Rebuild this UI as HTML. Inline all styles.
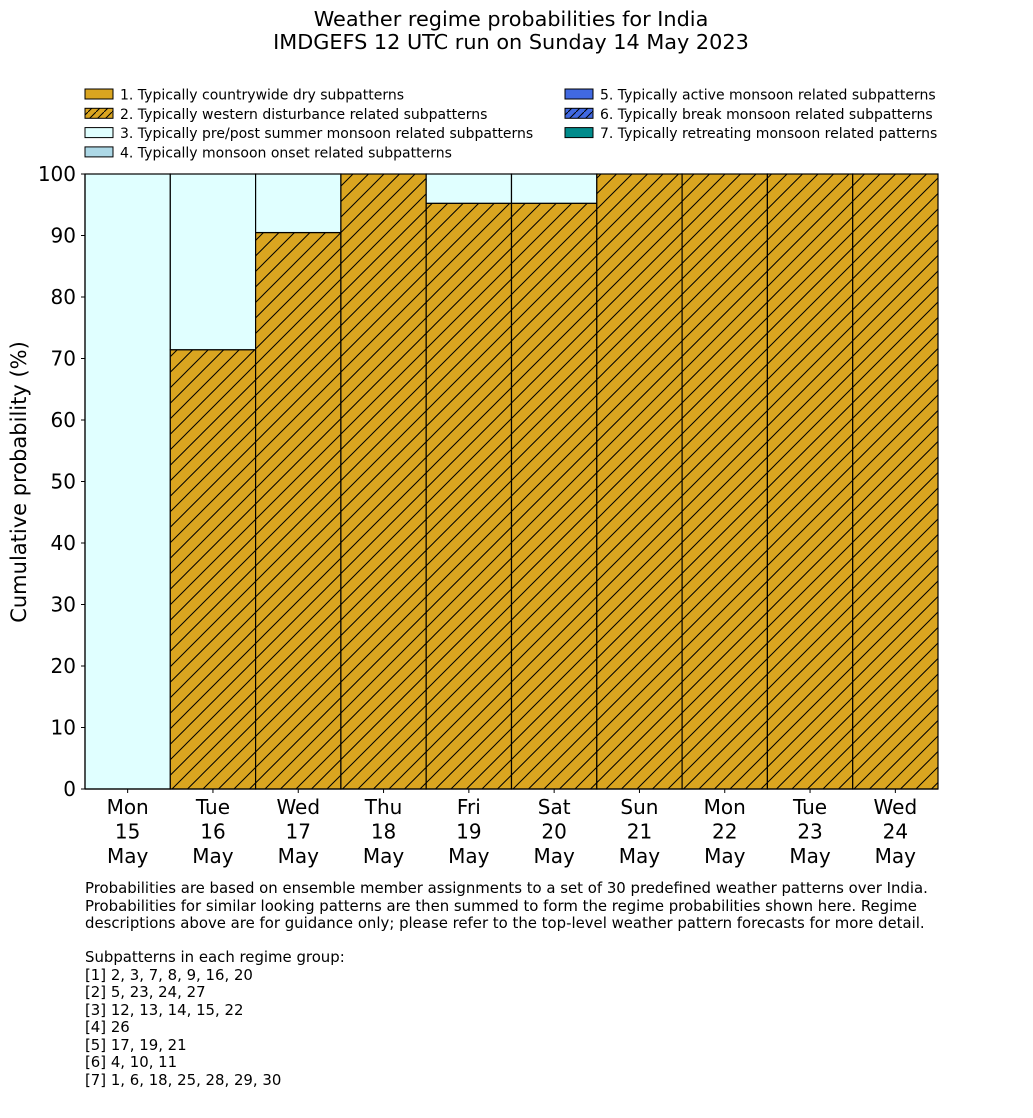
<!DOCTYPE html>
<html><head><meta charset="utf-8"><style>
body{margin:0;background:#fff;font-family:"DejaVu Sans","Liberation Sans",sans-serif;}
svg text{font-family:"DejaVu Sans","Liberation Sans",sans-serif;fill:#000}
</style></head><body>
<svg width="1033" height="1114">
<defs>
<pattern id="hatch" patternUnits="userSpaceOnUse" width="15.5" height="15.5">
<rect width="15.5" height="15.5" fill="#daa520"/>
<path d="M-2,17.5 L17.5,-2 M-2,2 L2,-2 M13.5,17.5 L17.5,13.5" stroke="#000" stroke-width="1"/>
</pattern>
<pattern id="hatchs" patternUnits="userSpaceOnUse" width="8" height="8">
<rect width="8" height="8" fill="#daa520"/>
<path d="M-1,9 L9,-1" stroke="#000" stroke-width="1"/>
</pattern>
<pattern id="hatchb" patternUnits="userSpaceOnUse" width="8" height="8">
<rect width="8" height="8" fill="#4169e1"/>
<path d="M-1,9 L9,-1" stroke="#000" stroke-width="1"/>
</pattern>
</defs>
<text x="511" y="26" font-size="20.8" text-anchor="middle">Weather regime probabilities for India</text>
<text x="511" y="49" font-size="20.8" text-anchor="middle">IMDGEFS 12 UTC run on Sunday 14 May 2023</text>
<g id="legend" font-size="14"></g>
<g id="plot"></g>
<text transform="translate(26,482) rotate(-90)" font-size="21" text-anchor="middle">Cumulative probability (%)</text>
<g font-size="14.9">
<text x="85" y="893">Probabilities are based on ensemble member assignments to a set of 30 predefined weather patterns over India.</text>
<text x="85" y="911">Probabilities for similar looking patterns are then summed to form the regime probabilities shown here. Regime</text>
<text x="85" y="928">descriptions above are for guidance only; please refer to the top-level weather pattern forecasts for more detail.</text>
<text x="85" y="962">Subpatterns in each regime group:</text>
<text x="85" y="980">[1] 2, 3, 7, 8, 9, 16, 20</text>
<text x="85" y="997">[2] 5, 23, 24, 27</text>
<text x="85" y="1015">[3] 12, 13, 14, 15, 22</text>
<text x="85" y="1032">[4] 26</text>
<text x="85" y="1050">[5] 17, 19, 21</text>
<text x="85" y="1067">[6] 4, 10, 11</text>
<text x="85" y="1085">[7] 1, 6, 18, 25, 28, 29, 30</text>
</g>
</svg>
<script>
const days=["Mon","Tue","Wed","Thu","Fri","Sat","Sun","Mon","Tue","Wed"];
const dates=["15","16","17","18","19","20","21","22","23","24"];
const r2=[0,71.43,90.48,100,95.24,95.24,100,100,100,100];
const r3=[100,28.57,9.52,0,4.76,4.76,0,0,0,0];
const yTicks=[0,10,20,30,40,50,60,70,80,90,100];
const legendLabels=["1. Typically countrywide dry subpatterns","2. Typically western disturbance related subpatterns","3. Typically pre/post summer monsoon related subpatterns","4. Typically monsoon onset related subpatterns","5. Typically active monsoon related subpatterns","6. Typically break monsoon related subpatterns","7. Typically retreating monsoon related patterns"];
const legendFills=["#daa520","url(#hatchs)","#e0ffff","#add8e6","#4169e1","url(#hatchb)","#008b8b"];
const NS="http://www.w3.org/2000/svg";
const X0=85,X1=938,Y0=789,Y1=174,bw=(X1-X0)/days.length;
const y=v=>Y0-(v/100)*(Y0-Y1);
const x=i=>X0+i*bw;
function mk(t,a,p){const e=document.createElementNS(NS,t);for(const k in a)e.setAttribute(k,a[k]);p.appendChild(e);return e;}
const plot=document.getElementById('plot');
for(let i=0;i<days.length;i++){
 let b=0;
 if(r2[i]>0){const r=mk('rect',{x:x(i),y:y(b+r2[i]),width:bw,height:y(b)-y(b+r2[i]),fill:'url(#hatch)',stroke:'#000','stroke-width':1.2},plot);
 
 b+=r2[i];}
 if(r3[i]>0){const r=mk('rect',{x:x(i),y:y(b+r3[i]),width:bw,height:y(b)-y(b+r3[i]),fill:'#e0ffff',stroke:'#000','stroke-width':1.2},plot);
 
 b+=r3[i];}
 const lab=mk('text',{x:x(i)+bw/2,'font-size':20,'text-anchor':'middle'},plot);
 
 
 [days[i],dates[i],"May"].forEach((s,k)=>{const t=mk('tspan',{x:x(i)+bw/2,y:814+k*24.5},lab);t.textContent=s;});
 mk('line',{x1:x(i)+bw/2,x2:x(i)+bw/2,y1:Y0,y2:Y0+4,stroke:'#000'},plot);
}
mk('line',{x1:X0,x2:X0,y1:Y1,y2:Y0,stroke:'#000','stroke-width':1.2},plot);
mk('line',{x1:X0,x2:X1,y1:Y0,y2:Y0,stroke:'#000','stroke-width':1.2},plot);
yTicks.forEach(v=>{mk('line',{x1:X0-4,x2:X0,y1:y(v),y2:y(v),stroke:'#000'},plot);
 const t=mk('text',{x:X0-9,y:y(v)+7,'font-size':20,'text-anchor':'end'},plot);
 
 
 t.textContent=v;});
const lg=document.getElementById('legend');
legendLabels.forEach((s,i)=>{const col=i<4?0:1,row=i<4?i:i-4;
 const lx=col?565:85,ly=89+row*19.3;
 const g=mk('g',{},lg);
 
 
 mk('rect',{x:lx,y:ly,width:28,height:10,fill:legendFills[i],stroke:'#000'},g);
 const t=mk('text',{x:lx+35,y:ly+10.5},g);t.textContent=s;});
</script>
</body></html>
